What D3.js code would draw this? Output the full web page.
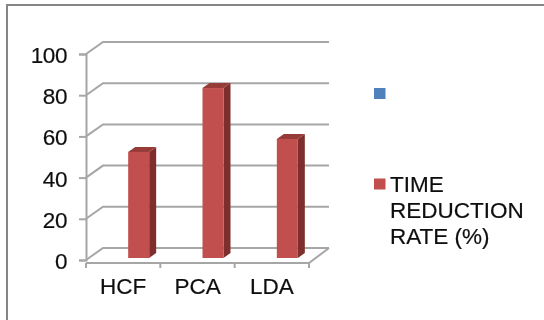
<!DOCTYPE html>
<html>
<head>
<meta charset="utf-8">
<script src="https://cdnjs.cloudflare.com/ajax/libs/d3/7.8.5/d3.min.js"></script>
<style>
  html, body { margin: 0; padding: 0; background: #fff; }
  svg { display: block; font-family: "Liberation Sans", Arial, sans-serif; }
</style>
</head>
<body>
<div class="chart"></div>
<script>
// values
var categories = ["HCF", "PCA", "LDA"];
var timeReduction = [51.5, 82.5, 57.8];
var yTicks = [0, 20, 40, 60, 80, 100];
var legendNames = ["", "TIME REDUCTION RATE (%)"];
var legendLines = [[], ["TIME", "REDUCTION", "RATE (%)"]];
var legendColors = ["#4f81bd", "#c0504d"];

var width = 544, height = 320;
var axisColor = "#a6a6a6";

// 3d look: how far the back wall is pushed from the front axes
var wallDx = 17, wallDy = -12;
var barDx = 7, barDy = -5;

var svg = d3.select(".chart").append("svg")
  .attr("width", width)
  .attr("height", height);

// small blur, the reference is a soft screenshot
var defs = svg.append("defs");
defs.append("filter").attr("id", "soft")
  .append("feGaussianBlur").attr("stdDeviation", 0.45);

var root = svg.append("g").attr("filter", "url(#soft)");

// outer frame, only top and left show
root.append("path")
  .attr("d", `M7,${height} V5 H${width}`)
  .attr("fill", "none")
  .attr("stroke", "#868686")
  .attr("stroke-width", 2);

var x = d3.scaleBand().domain(categories).range([86, 309]);
var y = d3.scaleLinear().domain([0, 100]).range([260, 54]);

// back wall gridlines plus the small diagonal on the side wall
root.append("g").selectAll("path")
  .data(yTicks)
  .enter()
  .append("path")
  .attr("d", d => `M86,${y(d)} L${86 + wallDx},${y(d) + wallDy} H329`)
  .attr("fill", "none")
  .attr("stroke", axisColor)
  .attr("stroke-width", 2);

// floor front edge and right diagonal
root.append("path")
  .attr("d", `M86,${y(0) + 3} H309 L329,${y(0) + wallDy}`)
  .attr("fill", "none")
  .attr("stroke", axisColor)
  .attr("stroke-width", 2);

// axes
var yAxis = d3.axisLeft(y).tickValues(yTicks).tickSize(7).tickPadding(12);
var xAxis = d3.axisBottom(x).tickSize(0).tickPadding(15);

var yG = root.append("g").attr("transform", "translate(86,0)").call(yAxis);
var xG = root.append("g").attr("transform", `translate(0,${y(0) + 3})`).call(xAxis);

yG.select(".domain").attr("stroke", axisColor).attr("stroke-width", 2);
yG.selectAll("line").attr("stroke", axisColor).attr("stroke-width", 2);
xG.select(".domain").remove();
// category ticks sit on band edges
xG.selectAll(".edge")
  .data(categories.concat("end"))
  .enter()
  .append("line")
  .attr("x1", (d, i) => 86 + i * x.step())
  .attr("x2", (d, i) => 86 + i * x.step())
  .attr("y1", 0)
  .attr("y2", 5)
  .attr("stroke", axisColor)
  .attr("stroke-width", 2);

root.selectAll(".tick text")
  .attr("fill", "#111")
  .attr("stroke", "#111")
  .attr("stroke-width", 0.2)
  .style("font-size", "22.5px");
yG.selectAll(".tick text")
  .attr("dy", "0.38em")
  .style("letter-spacing", "-0.4px");

// bars: front, side, top
var barW = 21, barOffset = 5.5;
var bars = root.append("g").selectAll("g")
  .data(timeReduction)
  .enter()
  .append("g");

function barX(i) { return x(categories[i]) + (x.bandwidth() - barW) / 2 + barOffset + 10; }
function barTop(d) { return y(d) - 2; }
var barBottom = y(0) - 2;

bars.append("path")
  .attr("d", (d, i) => `M${barX(i) + barW},${barTop(d)} l${barDx},${barDy} V${barBottom + barDy} l${-barDx},${-barDy} Z`)
  .attr("fill", "#7f2f2d");
bars.append("path")
  .attr("d", (d, i) => `M${barX(i)},${barTop(d)} l${barDx},${barDy} h${barW} l${-barDx},${-barDy} Z`)
  .attr("fill", "#963b39");
bars.append("rect")
  .attr("x", (d, i) => barX(i))
  .attr("y", d => barTop(d))
  .attr("width", barW)
  .attr("height", d => barBottom - barTop(d))
  .attr("fill", "#c0504d");

// legend
var legendY = [93.5, 184];
var legend = root.append("g").selectAll("g")
  .data(legendNames)
  .enter()
  .append("g")
  .attr("transform", (d, i) => `translate(374,${legendY[i]})`);

legend.append("rect")
  .attr("y", -5.5)
  .attr("width", 11.5)
  .attr("height", 11)
  .attr("fill", (d, i) => legendColors[i]);

legend.each(function (d, i) {
  d3.select(this).selectAll("text")
    .data(legendLines[i])
    .enter()
    .append("text")
    .attr("x", 16)
    .attr("y", (t, j) => 7.5 + j * 26.3)
    .attr("fill", "#111")
    .attr("stroke", "#111")
    .attr("stroke-width", 0.2)
    .style("font-size", "22.5px")
    .text(t => t);
});
</script>
</body>
</html>
